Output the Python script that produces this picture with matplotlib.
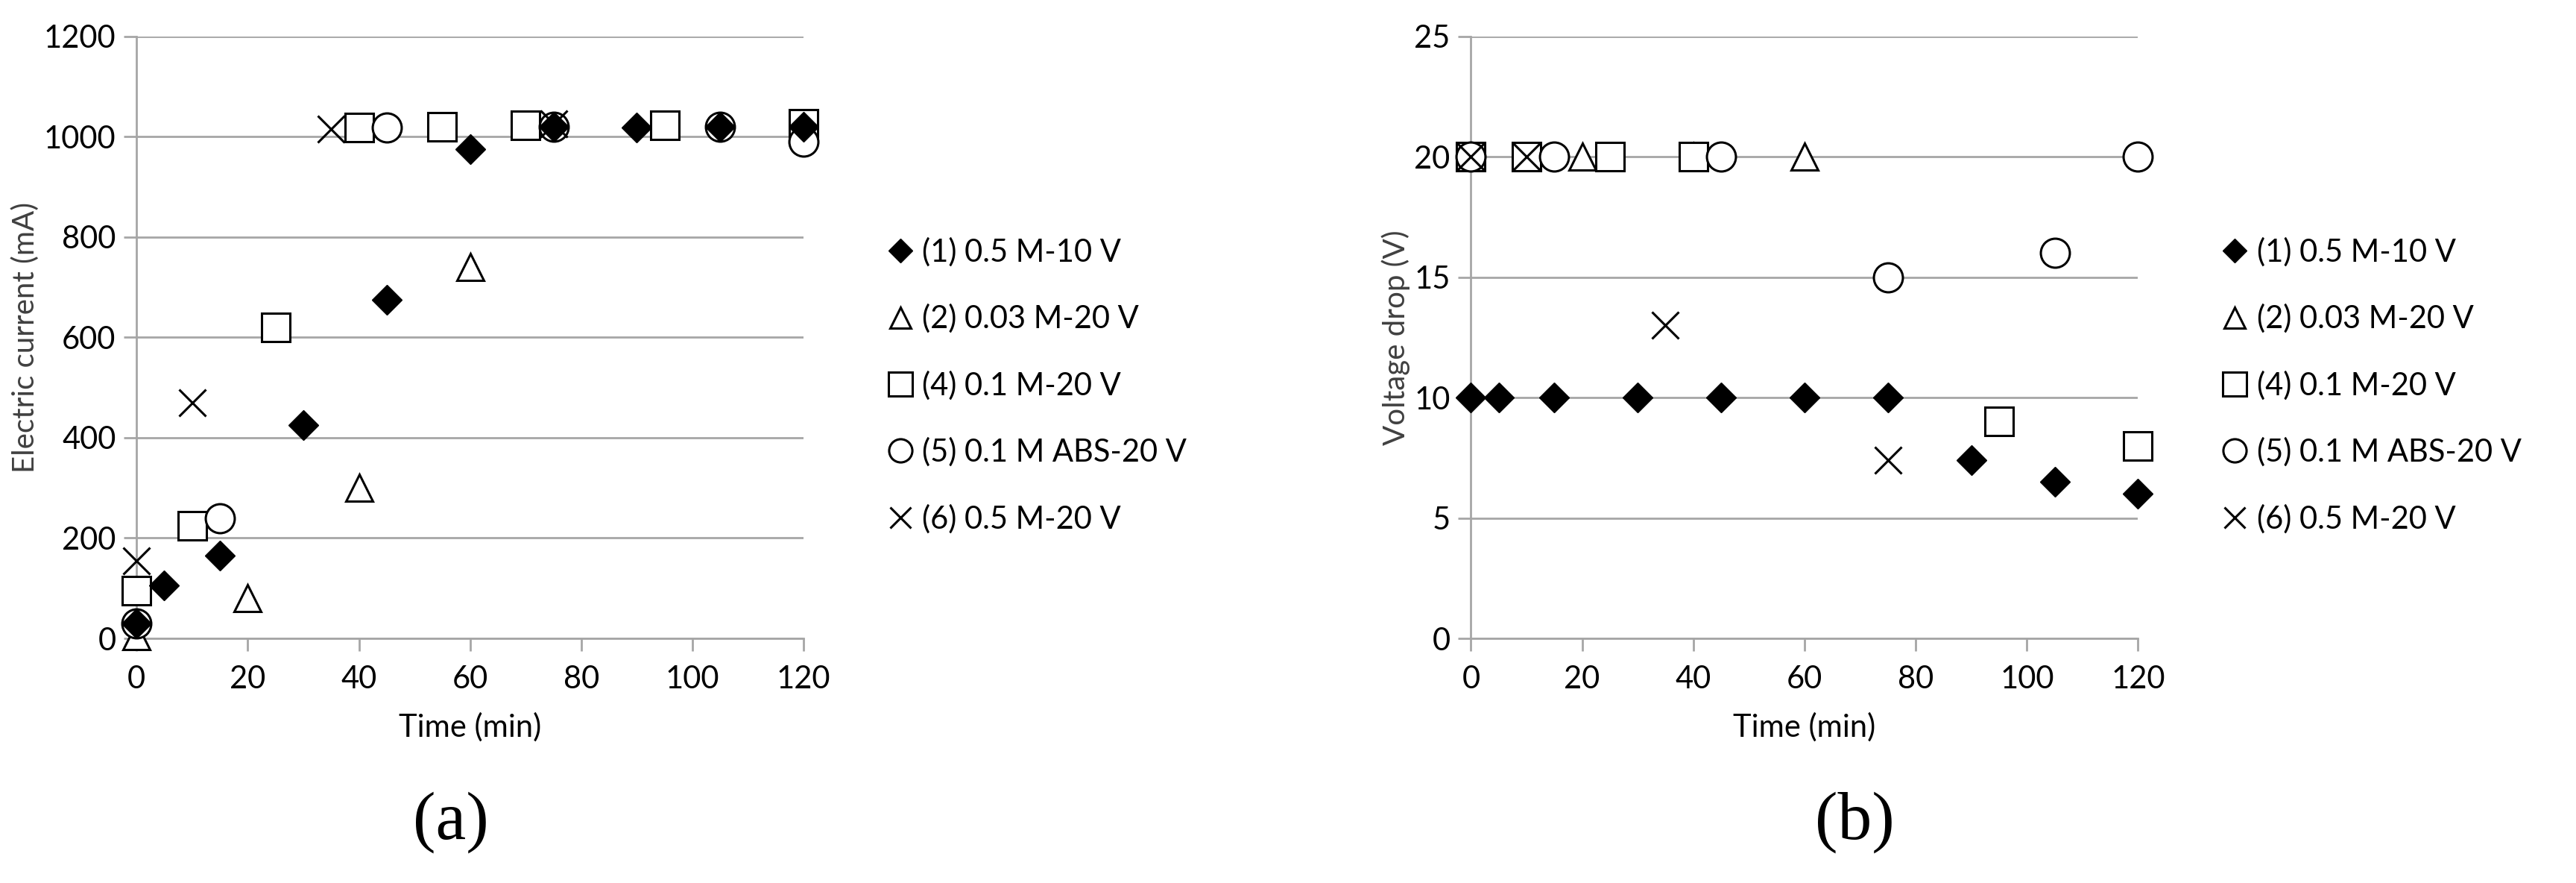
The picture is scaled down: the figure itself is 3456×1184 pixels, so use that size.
import matplotlib
matplotlib.use("Agg")
import matplotlib.pyplot as plt

plt.rcParams['font.family'] = ['Lato', 'DejaVu Sans']

labels = ["(1) 0.5 M-10 V", "(2) 0.03 M-20 V", "(4) 0.1 M-20 V", "(5) 0.1 M ABS-20 V", "(6) 0.5 M-20 V"]

# (a) electric current
a_t1 = [0, 5, 15, 30, 45, 60, 75, 90, 105, 120]
a_i1 = [30, 105, 165, 425, 675, 975, 1020, 1018, 1020, 1020]
a_t2 = [0, 20, 40, 60]
a_i2 = [5, 80, 300, 740]
a_t4 = [0, 10, 25, 40, 55, 70, 95, 120]
a_i4 = [95, 225, 620, 1018, 1020, 1022, 1022, 1025]
a_t5 = [0, 15, 45, 75, 105, 120]
a_i5 = [30, 240, 1018, 1020, 1020, 990]
a_t6 = [0, 10, 35, 75]
a_i6 = [155, 470, 1015, 1025]

# (b) voltage drop
b_t1 = [0, 5, 15, 30, 45, 60, 75, 90, 105, 120]
b_v1 = [10, 10, 10, 10, 10, 10, 10, 7.4, 6.5, 6.0]
b_t2 = [0, 20, 40, 60]
b_v2 = [20, 20, 20, 20]
b_t4 = [0, 10, 25, 40, 95, 120]
b_v4 = [20, 20, 20, 20, 9.0, 8.0]
b_t5 = [0, 15, 45, 75, 105, 120]
b_v5 = [20, 20, 20, 15, 16, 20]
b_t6 = [0, 10, 35, 75]
b_v6 = [20, 20, 13, 7.4]

styles = [
    dict(marker="D", ms=20, mfc="black", mec="black", zorder=5),
    dict(marker="^", ms=26, mfc="white", mec="black", mew=2.2, zorder=3),
    dict(marker="s", ms=28, mfc="white", mec="black", mew=2.2, zorder=3),
    dict(marker="o", ms=28, mfc="white", mec="black", mew=2.2, zorder=3),
    dict(marker="x", ms=26, mec="black", mew=2.2, zorder=4),
]

fig = plt.figure(figsize=(34.56, 11.84), dpi=100)


def panel(ax, series, ylim, yticks, ylabel, legx, tag, tagx):
    for (t, v), st, lab in zip(series, styles, labels):
        ax.plot(t, v, ls="none", label=lab, clip_on=False, **st)
    ax.set_xlim(0, 120)
    ax.set_ylim(*ylim)
    ax.set_xticks(range(0, 121, 20))
    ax.set_yticks(yticks)
    ax.grid(axis="y", color="#a6a6a6", lw=2)
    ax.set_axisbelow(True)
    for s in ["top", "right"]:
        ax.spines[s].set_visible(False)
    for s in ["left", "bottom"]:
        ax.spines[s].set_color("#a6a6a6")
        ax.spines[s].set_linewidth(2)
    ax.tick_params(axis="x", direction="out", length=12, width=2, color="#a6a6a6", labelsize=30, pad=14)
    ax.tick_params(axis="y", direction="out", length=12, width=2, color="#a6a6a6", labelsize=30, pad=8)
    ax.set_xlabel("Time (min)", fontsize=30, labelpad=18)
    ax.set_ylabel(ylabel, fontsize=29, color="#404040")
    ax.legend(loc="center left", bbox_to_anchor=(legx, 0.42), frameon=False, fontsize=30,
              handletextpad=0.2, labelspacing=1.2, handlelength=1.0, markerscale=0.8)
    fig.text(tagx, 0.05, tag, fontsize=66, family="Liberation Serif", ha="center")


ax1 = fig.add_axes([0.053, 0.277, 0.259, 0.682])
panel(ax1, [(a_t1, a_i1), (a_t2, a_i2), (a_t4, a_i4), (a_t5, a_i5), (a_t6, a_i6)],
      (0, 1200), range(0, 1201, 200), "Electric current (mA)", 1.08, "(a)", 0.175)

ax2 = fig.add_axes([0.571, 0.277, 0.259, 0.682])
panel(ax2, [(b_t1, b_v1), (b_t2, b_v2), (b_t4, b_v4), (b_t5, b_v5), (b_t6, b_v6)],
      (0, 25), range(0, 26, 5), "Voltage drop (V)", 1.08, "(b)", 0.72)

fig.savefig("out.png", dpi=100)
